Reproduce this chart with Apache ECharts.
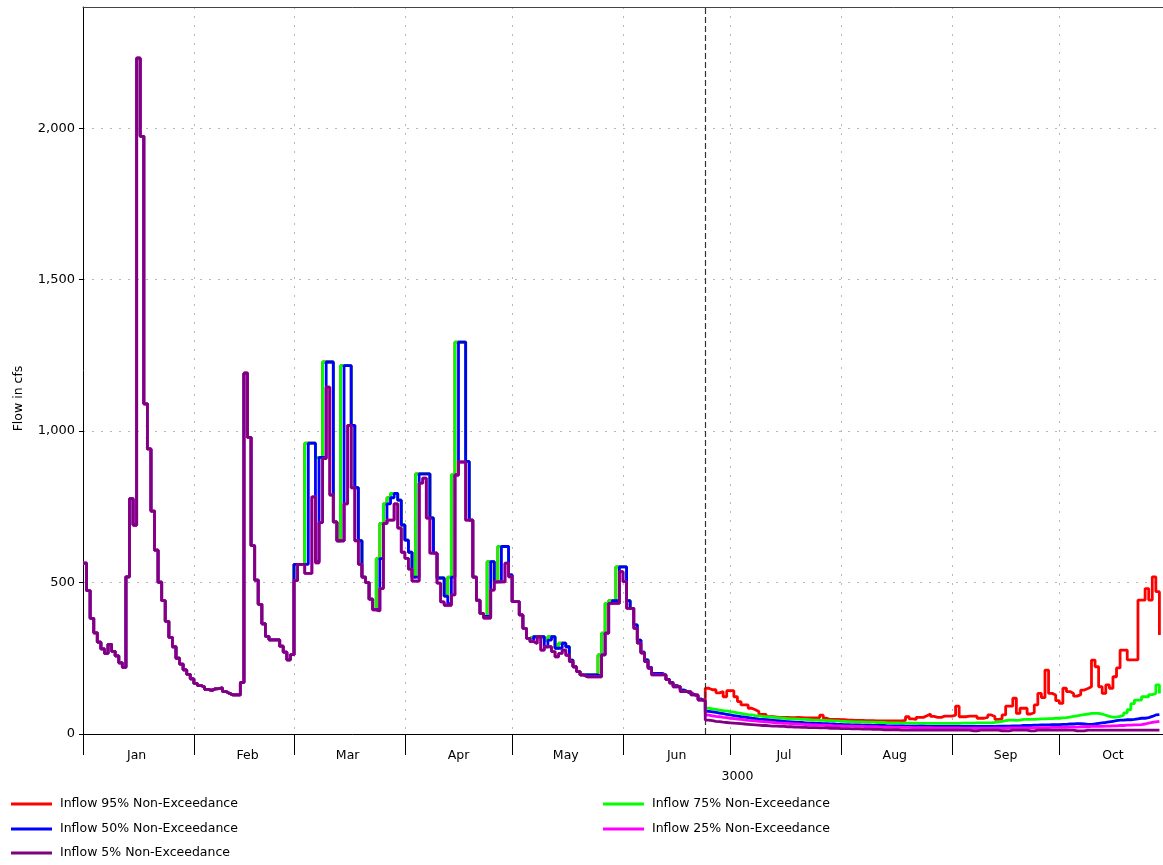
<!DOCTYPE html>
<html>
<head>
<meta charset="utf-8">
<script src="https://cdn.jsdelivr.net/npm/echarts@6/dist/echarts.min.js"></script>
<style>
  html, body { margin: 0; padding: 0; background: #ffffff; }
  #chart { width: 1163px; height: 865px; }
</style>
</head>
<body>
<div id="chart"></div>
<script>
// ---- Axis definitions (daily categories, Jan 1 .. Oct 30 of year 3000) ----
const YEAR = 3000;
const monthNames = ['Jan', 'Feb', 'Mar', 'Apr', 'May', 'Jun', 'Jul', 'Aug', 'Sep', 'Oct'];
const monthStartDays = [0, 31, 59, 90, 120, 151, 181, 212, 243, 273];
const monthLabelDays = [15, 46, 74, 105, 135, 166, 196, 227, 258, 288];
const yearLabelDay = 183;
const forecastStartDay = 174;
const axisDayCount = 303;
const yTickValues = [0, 500, 1000, 1500, 2000];

// ---- Observed inflow, Jan 1 - Feb 28 (same for every trace), cfs ----
const observedWinter = [
  564, 473, 382, 334, 303, 281, 266, 296, 273, 258, 235, 220,
  519, 777, 690, 2231, 1973,
  1090, 941, 736, 607, 501, 440, 372, 319, 288, 250,
  231, 212, 197, 182, 167, 160, 155, 147, 144, 149,
  150, 152, 140, 134, 129, 129, 129, 170, 1191, 979,
  622, 508, 428, 364, 322, 311, 311, 311, 290, 270, 245, 262
];

// ---- Mar 1 - Jun 23 traces, cfs ----
const spring75 = [
  560, 560, 560, 960, 960, 960, 913, 913, 1228, 1228,
  1228, 700, 638, 1216, 1216, 1216, 1019, 813, 638, 518,
  500, 445, 411, 579, 695, 760, 780, 794, 794, 772,
  690, 640, 600, 518, 859, 859, 859, 859, 713, 597,
  515, 515, 455, 518, 855, 1294, 1294, 1294, 900, 706,
  518, 440, 398, 388, 569, 569, 502, 619, 619, 619,
  525, 437, 437, 393, 349, 316, 321, 321, 321, 321,
  310, 321, 321, 283, 300, 300, 288, 244, 222, 206,
  195, 195, 195, 195, 195, 261, 333, 431, 440, 440,
  552, 552, 552, 440, 415, 360, 310, 270, 245, 220,
  200, 200, 200, 195, 180, 170, 160, 156, 145, 140,
  135, 130, 125, 115, 110
];
const spring50 = [
  560, 560, 560, 560, 960, 960, 571, 913, 913, 1228,
  1228, 700, 638, 638, 1216, 1216, 1019, 813, 638, 518,
  500, 445, 411, 411, 579, 695, 760, 780, 794, 772,
  690, 640, 600, 518, 518, 859, 859, 859, 713, 597,
  515, 515, 455, 430, 518, 855, 1294, 1294, 900, 706,
  518, 440, 398, 388, 388, 569, 502, 502, 619, 619,
  525, 437, 437, 393, 349, 316, 305, 321, 321, 321,
  288, 310, 321, 283, 283, 300, 288, 244, 222, 206,
  195, 195, 195, 195, 195, 189, 261, 333, 431, 440,
  440, 552, 552, 440, 415, 360, 310, 270, 245, 220,
  200, 200, 200, 195, 180, 170, 160, 156, 145, 140,
  135, 130, 125, 115, 110
];
const spring5 = [
  506, 560, 560, 530, 530, 783, 565, 698, 909, 1145,
  789, 700, 638, 638, 760, 1019, 813, 638, 560, 518,
  500, 445, 410, 406, 480, 695, 706, 706, 760, 680,
  600, 580, 544, 505, 505, 828, 845, 713, 597, 597,
  498, 436, 425, 425, 459, 855, 898, 898, 706, 706,
  518, 442, 398, 383, 383, 475, 502, 502, 502, 564,
  519, 437, 437, 393, 349, 316, 305, 299, 321, 277,
  288, 288, 272, 255, 266, 277, 260, 239, 222, 206,
  195, 189, 189, 189, 189, 189, 261, 333, 431, 431,
  431, 536, 503, 415, 415, 349, 300, 267, 239, 217,
  195, 195, 195, 195, 180, 168, 156, 156, 140, 140,
  140, 129, 129, 112, 110
];

// ---- Forecast, Jun 24 - Oct 28, cfs ----
const forecast95 = [
  151, 146, 146, 136, 140, 123, 143, 143, 123, 107,
  96, 96, 85, 80, 74, 65, 65, 57, 57, 56,
  55, 55, 55, 54, 54, 55, 54, 53, 53, 53,
  53, 54, 62, 52, 48, 48, 48, 47, 47, 46,
  46, 45, 45, 45, 44, 44, 44, 43, 43, 43,
  43, 43, 43, 43, 43, 45, 57, 50, 48, 55,
  55, 60, 66, 58, 55, 55, 59, 59, 59, 62,
  92, 57, 57, 59, 59, 59, 52, 52, 55, 63,
  58, 48, 50, 63, 92, 92, 118, 68, 85, 85,
  66, 70, 96, 134, 120, 211, 134, 129, 110, 101,
  151, 140, 134, 125, 130, 145, 150, 156, 244, 222,
  156, 134, 162, 151, 189, 218, 277, 277, 245, 245,
  245, 442, 442, 480, 442, 519, 470, 327
];
const forecast75 = [
  85, 83, 81, 79, 77, 76, 74, 72, 70, 68,
  66, 64, 63, 61, 60, 58, 57, 56, 55, 54,
  53, 52, 51, 50, 50, 49, 48, 48, 47, 46,
  46, 45, 45, 44, 44, 43, 43, 42, 42, 41,
  41, 40, 40, 40, 39, 39, 39, 38, 38, 38,
  37, 37, 37, 37, 36, 36, 36, 36, 36, 35,
  35, 35, 35, 35, 35, 35, 35, 35, 35, 35,
  35, 36, 36, 36, 36, 37, 37, 37, 37, 37,
  38, 40, 42, 44, 46, 46, 45, 46, 48, 48,
  48, 48, 49, 50, 50, 51, 51, 52, 52, 53,
  54, 56, 58, 60, 62, 64, 66, 68, 68, 68,
  66, 62, 58, 56, 56, 58, 62, 70, 80, 100,
  112, 112, 123, 123, 130, 134, 162, 134
];
const forecast50 = [
  75, 73, 71, 69, 67, 65, 63, 61, 59, 57,
  56, 54, 52, 51, 49, 48, 47, 46, 45, 44,
  43, 42, 41, 40, 39, 38, 38, 37, 36, 36,
  35, 35, 34, 34, 33, 33, 32, 32, 31, 31,
  30, 30, 30, 29, 29, 29, 28, 28, 28, 28,
  27, 27, 27, 27, 27, 26, 26, 26, 26, 26,
  26, 25, 25, 25, 25, 25, 25, 25, 25, 25,
  25, 25, 25, 25, 25, 25, 25, 25, 25, 25,
  25, 26, 26, 26, 26, 27, 27, 27, 28, 28,
  28, 29, 29, 30, 30, 30, 31, 31, 31, 32,
  32, 33, 33, 34, 34, 33, 32, 32, 33, 35,
  37, 38, 40, 42, 44, 46, 46, 47, 47, 48,
  50, 52, 52, 54, 58, 63, 64, 64
];
const forecast25 = [
  62, 60, 58, 57, 55, 54, 52, 51, 49, 48,
  47, 45, 44, 43, 42, 41, 40, 39, 38, 37,
  36, 35, 35, 34, 33, 33, 32, 31, 31, 30,
  30, 29, 29, 28, 28, 27, 27, 27, 26, 26,
  26, 25, 25, 25, 24, 24, 24, 24, 23, 23,
  23, 23, 22, 22, 22, 22, 22, 21, 21, 21,
  21, 21, 21, 20, 20, 20, 20, 20, 20, 20,
  20, 19, 19, 19, 19, 19, 19, 19, 19, 19,
  19, 19, 19, 19, 20, 20, 20, 20, 20, 20,
  20, 21, 21, 21, 21, 21, 22, 22, 22, 22,
  22, 23, 23, 23, 24, 24, 24, 25, 25, 25,
  25, 26, 26, 27, 27, 28, 28, 29, 29, 30,
  30, 31, 33, 36, 38, 40, 42, 42
];
const forecast5 = [
  46, 44, 42, 41, 39, 38, 37, 36, 35, 34,
  33, 32, 31, 30, 29, 28, 28, 27, 26, 26,
  25, 25, 24, 24, 23, 23, 22, 22, 21, 21,
  21, 20, 20, 20, 19, 19, 19, 18, 18, 18,
  17, 17, 17, 16, 16, 16, 15, 15, 15, 14,
  14, 14, 14, 14, 13, 13, 13, 13, 13, 13,
  13, 13, 13, 13, 13, 13, 13, 13, 13, 13,
  13, 13, 13, 13, 10, 10, 13, 13, 13, 13,
  13, 13, 10, 10, 10, 13, 13, 13, 13, 13,
  10, 10, 13, 13, 13, 13, 13, 13, 13, 13,
  13, 13, 13, 10, 10, 10, 13, 13, 13, 13,
  13, 13, 13, 13, 13, 13, 13, 13, 13, 13,
  13, 13, 13, 13, 13, 13, 13, 13
];

const seriesNames = [
  'Inflow 95% Non-Exceedance',
  'Inflow 75% Non-Exceedance',
  'Inflow 50% Non-Exceedance',
  'Inflow 25% Non-Exceedance',
  'Inflow 5% Non-Exceedance'
];
const seriesColors = ['#ff0000', '#00ff00', '#0000ff', '#ff00ff', '#800080'];

// ---- Build categories and full traces ----
const categories = [];
for (let i = 0; i < axisDayCount; i++) {
  const d = new Date(Date.UTC(YEAR, 0, 1 + i));
  categories.push(YEAR + '-' + String(d.getUTCMonth() + 1).padStart(2, '0') + '-' + String(d.getUTCDate()).padStart(2, '0'));
}
const traces = [
  observedWinter.concat(spring75, forecast95),
  observedWinter.concat(spring75, forecast75),
  observedWinter.concat(spring50, forecast50),
  observedWinter.concat(spring5, forecast25),
  observedWinter.concat(spring5, forecast5)
];

const FONT = 'DejaVu Sans';
const chart = echarts.init(document.getElementById('chart'), null, { renderer: 'canvas' });

const series = traces.map((data, i) => ({
  name: seriesNames[i],
  type: 'line',
  step: 'end',
  data: data,
  showSymbol: false,
  symbol: 'none',
  silent: true,
  z: 2 + i,
  lineStyle: { color: seriesColors[i], width: 2.8 },
  itemStyle: { color: seriesColors[i] }
}));
series[4].markLine = {
  symbol: 'none',
  silent: true,
  label: { show: false },
  lineStyle: { color: '#333333', width: 1.2, type: [6, 3] },
  data: [{ xAxis: categories[forecastStartDay] }]
};

// legend layout: two columns
const legendSpots = [
  { left: 11, top: 796 },
  { left: 603, top: 796 },
  { left: 11, top: 821 },
  { left: 603, top: 821 },
  { left: 11, top: 845 }
];
const legends = seriesNames.map((n, i) => ({
  data: [n],
  left: legendSpots[i].left,
  top: legendSpots[i].top,
  padding: 0,
  icon: 'rect',
  itemWidth: 41,
  itemHeight: 3,
  selectedMode: false,
  textStyle: { fontFamily: FONT, fontSize: 12.5, color: '#000000', padding: [0, 0, 0, 3], lineHeight: 16 }
}));

const monthStartSet = new Set(monthStartDays);
const labelDayIndex = new Map(monthLabelDays.map((d, i) => [d, i]));

chart.setOption({
  animation: false,
  backgroundColor: '#ffffff',
  grid: { left: 83, right: 0, top: 7, bottom: 131, containLabel: false },
  legend: legends,
  xAxis: [
    {
      type: 'category',
      data: categories,
      boundaryGap: false,
      position: 'bottom',
      axisLine: { show: true, onZero: false, lineStyle: { color: '#000000', width: 1 } },
      axisTick: {
        show: true,
        length: 21,
        interval: (idx) => monthStartSet.has(idx),
        lineStyle: { color: '#000000', width: 1 }
      },
      axisLabel: {
        show: true,
        interval: (idx) => labelDayIndex.has(idx),
        formatter: (val, idx) => labelDayIndex.has(idx) ? monthNames[labelDayIndex.get(idx)] : '',
        margin: 15,
        fontFamily: FONT,
        fontSize: 12.5,
        color: '#000000'
      },
      splitLine: {
        show: true,
        interval: (idx) => monthStartSet.has(idx) && idx > 0,
        lineStyle: { color: '#b8b8b8', width: 1, type: [2, 7] }
      }
    },
    {
      type: 'category',
      data: categories,
      boundaryGap: false,
      position: 'bottom',
      offset: 33,
      axisLine: { show: false },
      axisTick: {
        show: true,
        length: 20,
        interval: (idx) => idx === 0,
        lineStyle: { color: '#000000', width: 1 }
      },
      axisLabel: {
        show: true,
        interval: (idx) => idx === yearLabelDay,
        formatter: () => String(YEAR),
        margin: 3,
        fontFamily: FONT,
        fontSize: 12.5,
        color: '#000000'
      },
      splitLine: { show: false }
    },
    {
      type: 'category',
      data: categories,
      boundaryGap: false,
      position: 'top',
      axisLine: { show: true, onZero: false, lineStyle: { color: '#444444', width: 1 } },
      axisTick: { show: false },
      axisLabel: { show: false },
      splitLine: { show: false }
    }
  ],
  yAxis: {
    type: 'value',
    min: 0,
    max: 2400,
    interval: 500,
    name: 'Flow in cfs',
    nameLocation: 'middle',
    nameRotate: 90,
    nameGap: 58,
    nameTextStyle: { fontFamily: FONT, fontSize: 12.5, color: '#000000', padding: [0, 56, 0, 0] },
    axisLine: { show: true, onZero: false, lineStyle: { color: '#000000', width: 1 } },
    axisTick: { show: true, length: 4, customValues: yTickValues, lineStyle: { color: '#000000' } },
    axisLabel: {
      margin: 8,
      fontFamily: FONT,
      fontSize: 13,
      color: '#000000',
      customValues: yTickValues,
      formatter: (v) => (v % 500 === 0 ? v.toLocaleString('en-US') : '')
    },
    splitLine: { show: true, lineStyle: { color: '#b8b8b8', width: 1, type: [2, 7] } }
  },
  series: series
});
</script>
</body>
</html>
